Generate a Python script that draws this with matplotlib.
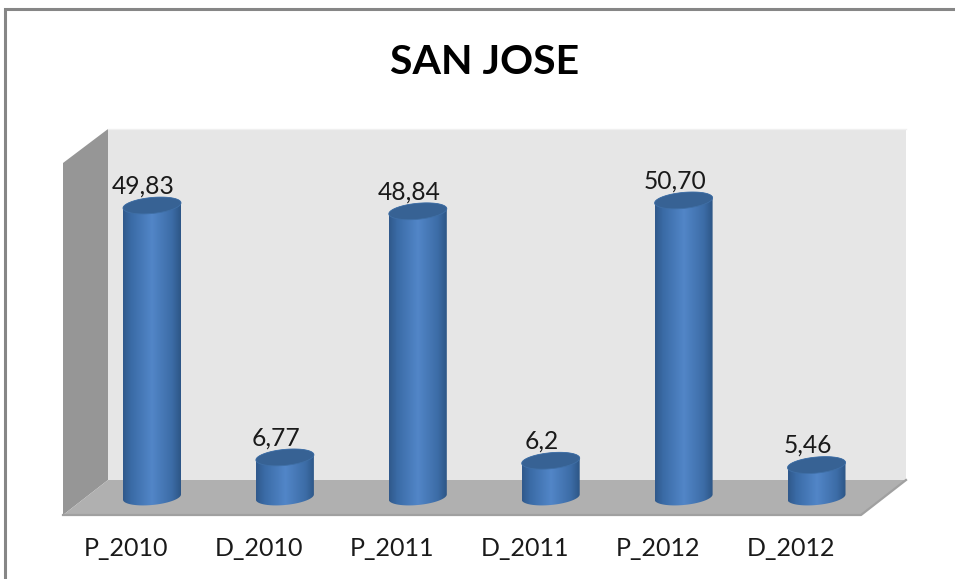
import numpy as np
import matplotlib
matplotlib.use("Agg")
import matplotlib.pyplot as plt
from matplotlib.patches import Polygon, PathPatch
from matplotlib.path import Path
from matplotlib.transforms import Affine2D
from matplotlib.colors import LinearSegmentedColormap

categories = ["P_2010", "D_2010", "P_2011", "D_2011", "P_2012", "D_2012"]
values = [49.83, 6.77, 48.84, 6.2, 50.70, 5.46]
value_labels = ["49,83", "6,77", "48,84", "6,2", "50,70", "5,46"]
title = "SAN JOSE"

W, H = 955, 579
plt.rcParams["font.family"] = ["Lato", "DejaVu Sans"]
fig = plt.figure(figsize=(W / 100, H / 100), dpi=100, facecolor="white")
ax = fig.add_axes([0, 0, 1, 1])
ax.axis("off")

# scales: category 0 at px 152, step 133 px; value 0 at py 497, 5.85 px per unit
x0_px, step_px, y0_px, unit_px = 152.0, 132.9, 497.0, 5.85
ax.set_xlim(-x0_px / step_px, (W - x0_px) / step_px)
ax.set_ylim(-(H - y0_px) / unit_px, y0_px / unit_px)

pix = Affine2D().scale(1, -1).translate(0, H)  # pixel coords, y downward

def poly(pts, fc, ec="none", lw=0, z=1):
    ax.add_patch(Polygon(pts, closed=True, fc=fc, ec=ec, lw=lw, transform=pix, zorder=z))

# frame
ax.plot([5, 5, 955], [579, 9, 9], color="#868686", lw=2.2, transform=pix, zorder=1, solid_joinstyle="miter")

# walls and floor
poly([(108, 129), (906, 129), (906, 480), (108, 480)], "#e6e6e6")
poly([(63, 163), (108, 129), (108, 480), (63, 515)], "#969696")
poly([(63, 515), (108, 480), (906, 480), (861, 515)], "#b0b0b0")
ax.plot([63, 861, 906], [515, 515, 480], color="#a0a0a0", lw=1.6, transform=pix, zorder=1.5)
ax.plot([108, 906], [129, 129], color="#f0f0f0", lw=1, transform=pix, zorder=1.5)

cmap = LinearSegmentedColormap.from_list(
    "cyl", [(0, "#30598b"), (0.14, "#3a6ba6"), (0.5, "#5286c8"), (0.85, "#3c6ca6"), (1, "#2d5686")]
)
grad = np.linspace(0, 1, 128).reshape(1, -1)
half_w, b, tilt = 29.0, 8.0, 2.6

# true bars from the data scale (gradient bodies are painted on top of them)
xpos = np.arange(len(values))
ax.bar(xpos, values, width=52 / step_px, color="#4a7ebb", zorder=2)

def ell(cx, cy, t):
    return cx + half_w * np.cos(t), cy + b * np.sin(t) - tilt * np.cos(t)

for i, (v, lab) in enumerate(zip(values, value_labels)):
    cx, dy_top = ax.transData.transform((i, v))
    _, dy_base = ax.transData.transform((i, 0))
    ty, by = H - dy_top, H - dy_base
    t_low = np.linspace(0, np.pi, 60)      # lower half, right -> left
    t_up = np.linspace(np.pi, 2 * np.pi, 60)  # upper half, left -> right
    xb, yb = ell(cx, by, t_low)
    xt, yt = ell(cx, ty, t_up)
    body = np.column_stack([np.r_[xb, xt], np.r_[yb, yt]])
    clip = PathPatch(Path(np.vstack([body, body[0]]), closed=True), fc="none", ec="none", transform=pix)
    ax.add_patch(clip)
    im = ax.imshow(grad, cmap=cmap, aspect="auto", zorder=3,
                   extent=[i - half_w / step_px, i + half_w / step_px, -2, v + 3],
                   interpolation="bilinear")
    im.set_clip_path(clip)
    tt = np.linspace(0, 2 * np.pi, 120)
    xe, ye = ell(cx, ty, tt)
    ax.add_patch(Polygon(np.column_stack([xe, ye]), closed=True, fc="#376294", ec="#3f6fa6",
                         lw=0.6, transform=pix, zorder=4))
    ax.annotate(lab, (i, v), xytext=(-9, 8), textcoords="offset pixels",
                ha="center", va="bottom", fontsize=17.7, color="#1a1a1a", zorder=5)
    ax.annotate(categories[i], (i, 0), xytext=(-26, -51), textcoords="offset pixels",
                ha="center", va="center", fontsize=18, color="#1a1a1a", zorder=5)

# imshow resets limits
ax.set_xlim(-x0_px / step_px, (W - x0_px) / step_px)
ax.set_ylim(-(H - y0_px) / unit_px, y0_px / unit_px)

ax.text(484.5, 63, title, transform=pix, ha="center", va="center", fontsize=29.5,
        fontweight="bold", color="#000000", zorder=5)

fig.savefig("out.png", dpi=100, facecolor="white")
